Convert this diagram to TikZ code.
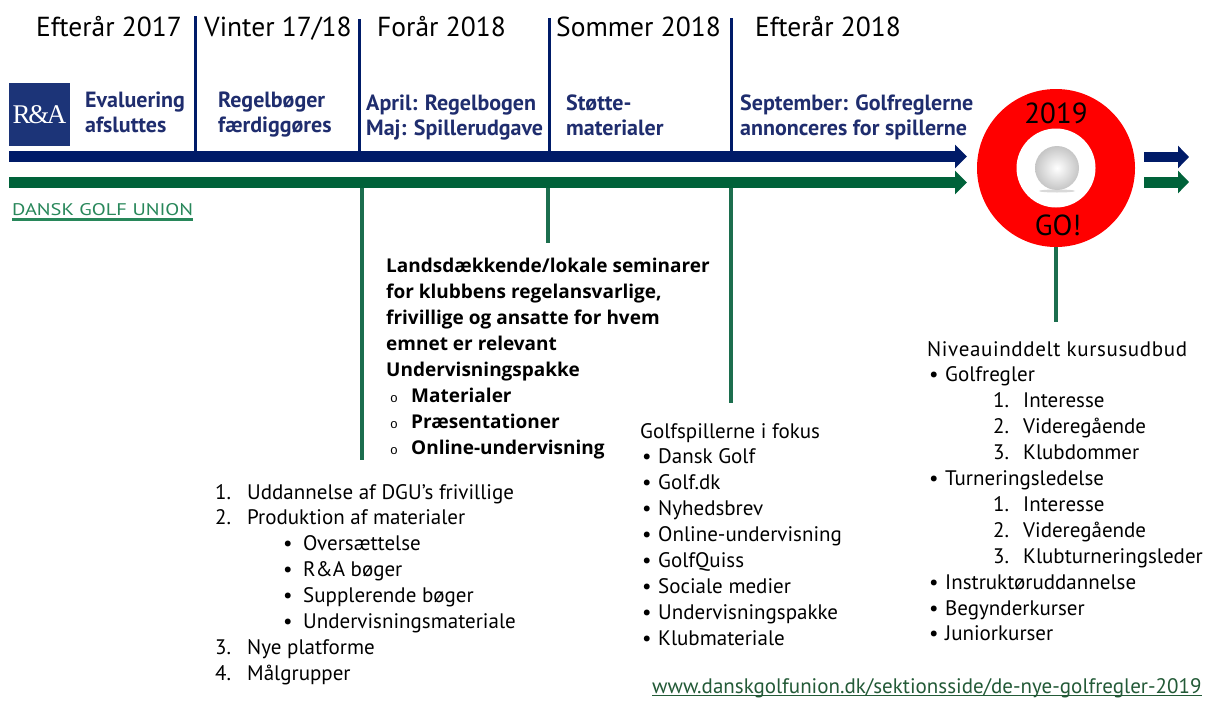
\documentclass[tikz,border=0pt]{standalone}
\usepackage{fontspec}
\setmainfont{PT Sans}
\newfontfamily\monofont{Liberation Mono}
\newfontfamily\seriffont{Liberation Serif}
\newfontfamily\opensans{Open Sans}
\usetikzlibrary{arrows.meta}
\definecolor{navy}{RGB}{0,27,104}
\definecolor{dgugreen}{RGB}{0,98,58}
\definecolor{vgreen}{RGB}{28,110,78}
\definecolor{labelblue}{RGB}{31,45,110}
\definecolor{logoblue}{RGB}{28,52,120}
\definecolor{logogreen}{RGB}{40,135,90}
\definecolor{urlgreen}{RGB}{35,90,55}
\tikzset{
  hdr/.style={font=\fontsize{27.5}{32}\selectfont, anchor=base west, inner sep=0pt, text=black},
  lbl/.style={font=\bfseries\fontsize{22}{25}\selectfont, text=labelblue, anchor=base west, inner sep=0pt},
  lst/.style={font=\fontsize{21}{25.9}\selectfont, anchor=base west, inner sep=0pt, text=black},
  blst/.style={font=\opensans\bfseries\fontsize{19}{26}\selectfont, anchor=base west, inner sep=0pt, text=black},
  navytick/.style={navy, line width=3pt},
  greentick/.style={vgreen, line width=3.5pt},
  timebar/.style={line width=11pt, -{Triangle[length=12pt,width=23pt]}},
  smallbar/.style={line width=10pt, -{Triangle[length=11pt,width=22pt]}},
}
\newcommand{\hb}{{\mdseries\fontsize{13}{13}\monofont o}}
\begin{document}
\begin{tikzpicture}[x=1pt,y=-1pt]
\useasboundingbox (0,0) rectangle (1206,704);
\fill[white] (0,0) rectangle (1206,704);

% headers
\node[hdr] (h1) at (36,36) {Efterår 2017};
\node[hdr] (h2) at (204,36) {Vinter 17/18};
\node[hdr] (h3) at (377,36) {Forår 2018};
\node[hdr] (h4) at (556,36) {Sommer 2018};
\node[hdr] (h5) at (755,36) {Efterår 2018};

% navy ticks
\coordinate (t1a) at (195,16); \coordinate (t1b) at (195,151);
\coordinate (t2a) at (359,19); \coordinate (t2b) at (359,151);
\coordinate (t3a) at (549,18); \coordinate (t3b) at (549,161);
\coordinate (t4a) at (731,18); \coordinate (t4b) at (731,151);
\draw[navytick] (t1a) -- (t1b);
\draw[navytick] (t2a) -- (t2b);
\draw[navytick] (t3a) -- (t3b);
\draw[navytick] (t4a) -- (t4b);

% R&A logo
\node[fill=logoblue, minimum width=61pt, minimum height=63pt, inner sep=0pt,
      text=white, font=\seriffont\fontsize{27}{27}\selectfont] (ra) at (39.5,114.5) {R\kern-2.5pt\&\kern-2.5pt A};

% blue labels
\node[lbl] (l1) at (85,107) {\begin{tabular}[t]{@{}l@{}}Evaluering\\afsluttes\end{tabular}};
\node[lbl] (l2) at (218,107) {\begin{tabular}[t]{@{}l@{}}Regelbøger\\færdiggøres\end{tabular}};
\node[lbl] (l3) at (366,110) {\begin{tabular}[t]{@{}l@{}}April: Regelbogen\\Maj: Spillerudgave\end{tabular}};
\node[lbl] (l4) at (566,110) {\begin{tabular}[t]{@{}l@{}}Støtte-\\materialer\end{tabular}};
\node[lbl] (l5) at (740,110) {\begin{tabular}[t]{@{}l@{}}September: Golfreglerne\\annonceres for spillerne\end{tabular}};

% time bars
\coordinate (bs) at (9,156.5); \coordinate (be) at (967,156.5);
\coordinate (gs) at (9,182.5); \coordinate (ge) at (967,182.5);
\draw[timebar, navy] (bs) -- (be);
\draw[timebar, dgugreen] (gs) -- (ge);
\coordinate (rbs) at (1144,157); \coordinate (rbe) at (1189,157);
\coordinate (rgs) at (1144,182); \coordinate (rge) at (1189,182);
\draw[smallbar, navy] (rbs) -- (rbe);
\draw[smallbar, dgugreen, line width=11pt] (rgs) -- (rge);

% DGU logo
\node[anchor=base west, inner sep=0pt, text=logogreen, font=\fontsize{17}{17}\selectfont] (dgu) at (12,215)
  {\resizebox{181pt}{12pt}{DANSK GOLF UNION}};
\fill[logogreen] (12,218) rectangle (193,221);

% 2019 circle
\fill[red] (1056,168) circle[radius=79pt];
\fill[white] (1056,168) circle[radius=39.5pt];
\fill[gray!30] (1057,191) ellipse[x radius=18pt, y radius=1.5pt];
\shade[inner color=white, outer color=gray!45] (1057,168) circle[radius=22pt];
\node[font=\fontsize{29}{29}\selectfont, inner sep=0pt, anchor=base] (y19) at (1056,123) {2019};
\node[font=\fontsize{29}{29}\selectfont, inner sep=0pt, anchor=base] (go) at (1058,235) {GO!};

% green ticks
\coordinate (g1a) at (362,188); \coordinate (g1b) at (362,460);
\coordinate (g2a) at (548,188); \coordinate (g2b) at (548,243);
\coordinate (g3a) at (731,188); \coordinate (g3b) at (731,403);
\coordinate (g4a) at (1056,247); \coordinate (g4b) at (1056,322);
\draw[greentick] (g1a) -- (g1b);
\draw[greentick] (g2a) -- (g2b);
\draw[greentick] (g3a) -- (g3b);
\draw[greentick] (g4a) -- (g4b);

% centre bold block
\node[blst] (sem) at (386,272) {\begin{tabular}[t]{@{}l@{}}
Landsdækkende/lokale seminarer\\
for klubbens regelansvarlige,\\
frivillige og ansatte for hvem\\
emnet er relevant\\
Undervisningspakke\\
\hspace*{4pt}\makebox[21pt][l]{\hb}Materialer\\
\hspace*{4pt}\makebox[21pt][l]{\hb}Præsentationer\\
\hspace*{4pt}\makebox[21pt][l]{\hb}Online-undervisning
\end{tabular}};

% DGU list
\node[lst] (dgulist) at (215,499) {\begin{tabular}[t]{@{}l@{}}
\makebox[32pt][l]{1.}Uddannelse af DGU’s frivillige\\
\makebox[32pt][l]{2.}Produktion af materialer\\
\hspace*{68pt}\makebox[20pt][l]{•}Oversættelse\\
\hspace*{68pt}\makebox[20pt][l]{•}R\&A bøger\\
\hspace*{68pt}\makebox[20pt][l]{•}Supplerende bøger\\
\hspace*{68pt}\makebox[20pt][l]{•}Undervisningsmateriale\\
\makebox[32pt][l]{3.}Nye platforme\\
\makebox[32pt][l]{4.}Målgrupper
\end{tabular}};

% players list
\node[lst] (players) at (640,438) {\begin{tabular}[t]{@{}l@{}}
Golfspillerne i fokus\\
\hspace*{2pt}\makebox[16pt][l]{•}Dansk Golf\\
\hspace*{2pt}\makebox[16pt][l]{•}Golf.dk\\
\hspace*{2pt}\makebox[16pt][l]{•}Nyhedsbrev\\
\hspace*{2pt}\makebox[16pt][l]{•}Online-undervisning\\
\hspace*{2pt}\makebox[16pt][l]{•}GolfQuiss\\
\hspace*{2pt}\makebox[16pt][l]{•}Sociale medier\\
\hspace*{2pt}\makebox[16pt][l]{•}Undervisningspakke\\
\hspace*{2pt}\makebox[16pt][l]{•}Klubmateriale
\end{tabular}};

% courses list
\node[lst] (courses) at (927,356) {\begin{tabular}[t]{@{}l@{}}
{\addfontfeature{LetterSpace=3}Niveauinddelt kursusudbud}\\
\hspace*{2pt}\makebox[16pt][l]{•}Golfregler\\
\hspace*{66pt}\makebox[30pt][l]{1.}Interesse\\
\hspace*{66pt}\makebox[30pt][l]{2.}Videregående\\
\hspace*{66pt}\makebox[30pt][l]{3.}Klubdommer\\
\hspace*{2pt}\makebox[16pt][l]{•}Turneringsledelse\\
\hspace*{66pt}\makebox[30pt][l]{1.}Interesse\\
\hspace*{66pt}\makebox[30pt][l]{2.}Videregående\\
\hspace*{66pt}\makebox[30pt][l]{3.}Klubturneringsleder\\
\hspace*{2pt}\makebox[16pt][l]{•}Instruktøruddannelse\\
\hspace*{2pt}\makebox[16pt][l]{•}Begynderkurser\\
\hspace*{2pt}\makebox[16pt][l]{•}Juniorkurser
\end{tabular}};

% url
\node[anchor=base west, inner sep=0pt, text=urlgreen, font=\fontsize{21}{21}\selectfont] (url) at (652,693)
  {www.danskgolfunion.dk/sektionsside/de-nye-golfregler-2019};
\draw[urlgreen, line width=0.9pt] ([yshift=-2.5pt]url.base west) -- ([yshift=-2.5pt]url.base east);
\end{tikzpicture}
\end{document}
